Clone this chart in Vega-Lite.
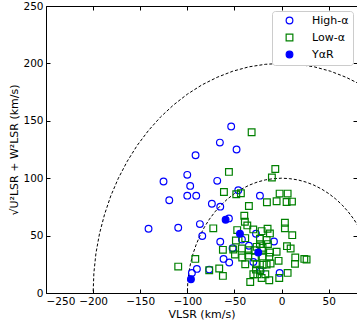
{
"$schema": "https://vega.github.io/schema/vega-lite/v6.json",
"width": 311, "height": 287,
"autosize": {"type": "none"},
"padding": {"left": 46, "top": 6, "right": 0, "bottom": 28},
"background": "white",
"config": {
  "view": {"stroke": "#000", "strokeWidth": 1},
  "font": "DejaVu Sans",
  "axis": {"grid": false, "domain": false, "tickColor": "#000", "tickSize": -4, "labelPadding": 7, "labelFontSize": 10.5, "labelColor": "#000", "labelFont": "DejaVu Sans", "titleFontSize": 11, "titleFontWeight": "normal", "titleColor": "#000", "titleFont": "DejaVu Sans"},
  "legend": {"orient": "top-right", "offset": 4.5, "padding": 4, "symbolOffset": 8, "labelOffset": 17, "rowPadding": 4, "labelFontSize": 11, "labelFont": "DejaVu Sans", "labelColor": "#000", "strokeColor": "#cccccc", "fillColor": "white", "cornerRadius": 3, "symbolSize": 45, "symbolStrokeWidth": 1.2, "symbolOpacity": 1}
},
"datasets": {
  "arcs": [
    {"R":100,"a":30,"V":86.6,"UW":50},{"R":100,"a":35,"V":81.9,"UW":57.4},{"R":100,"a":40,"V":76.6,"UW":64.3},{"R":100,"a":45,"V":70.7,"UW":70.7},{"R":100,"a":50,"V":64.3,"UW":76.6},{"R":100,"a":55,"V":57.4,"UW":81.9},{"R":100,"a":60,"V":50,"UW":86.6},{"R":100,"a":65,"V":42.3,"UW":90.6},{"R":100,"a":70,"V":34.2,"UW":94.0},{"R":100,"a":75,"V":25.9,"UW":96.6},{"R":100,"a":80,"V":17.4,"UW":98.5},{"R":100,"a":85,"V":8.7,"UW":99.6},{"R":100,"a":90,"V":0,"UW":100},{"R":100,"a":95,"V":-8.7,"UW":99.6},{"R":100,"a":100,"V":-17.4,"UW":98.5},{"R":100,"a":105,"V":-25.9,"UW":96.6},{"R":100,"a":110,"V":-34.2,"UW":94.0},{"R":100,"a":115,"V":-42.3,"UW":90.6},{"R":100,"a":120,"V":-50,"UW":86.6},{"R":100,"a":125,"V":-57.4,"UW":81.9},{"R":100,"a":130,"V":-64.3,"UW":76.6},{"R":100,"a":135,"V":-70.7,"UW":70.7},{"R":100,"a":140,"V":-76.6,"UW":64.3},{"R":100,"a":145,"V":-81.9,"UW":57.4},{"R":100,"a":150,"V":-86.6,"UW":50},{"R":100,"a":155,"V":-90.6,"UW":42.3},{"R":100,"a":160,"V":-94.0,"UW":34.2},{"R":100,"a":165,"V":-96.6,"UW":25.9},{"R":100,"a":170,"V":-98.5,"UW":17.4},{"R":100,"a":175,"V":-99.6,"UW":8.7},{"R":100,"a":180,"V":-100,"UW":0},
    {"R":200,"a":60,"V":100,"UW":173.2},{"R":200,"a":65,"V":84.5,"UW":181.3},{"R":200,"a":70,"V":68.4,"UW":187.9},{"R":200,"a":75,"V":51.8,"UW":193.2},{"R":200,"a":80,"V":34.7,"UW":197.0},{"R":200,"a":85,"V":17.4,"UW":199.2},{"R":200,"a":90,"V":0,"UW":200},{"R":200,"a":95,"V":-17.4,"UW":199.2},{"R":200,"a":100,"V":-34.7,"UW":197.0},{"R":200,"a":105,"V":-51.8,"UW":193.2},{"R":200,"a":110,"V":-68.4,"UW":187.9},{"R":200,"a":115,"V":-84.5,"UW":181.3},{"R":200,"a":120,"V":-100,"UW":173.2},{"R":200,"a":125,"V":-114.7,"UW":163.8},{"R":200,"a":130,"V":-128.6,"UW":153.2},{"R":200,"a":135,"V":-141.4,"UW":141.4},{"R":200,"a":140,"V":-153.2,"UW":128.6},{"R":200,"a":145,"V":-163.8,"UW":114.7},{"R":200,"a":150,"V":-173.2,"UW":100},{"R":200,"a":155,"V":-181.3,"UW":84.5},{"R":200,"a":160,"V":-187.9,"UW":68.4},{"R":200,"a":165,"V":-193.2,"UW":51.8},{"R":200,"a":170,"V":-197.0,"UW":34.7},{"R":200,"a":175,"V":-199.2,"UW":17.4},{"R":200,"a":180,"V":-200,"UW":0}
  ],
  "stars": [
    {"g":"High-α","V":-53.5,"UW":145},{"g":"High-α","V":-65.5,"UW":131},{"g":"High-α","V":-47.8,"UW":125},{"g":"High-α","V":-91.3,"UW":120},{"g":"High-α","V":-100.1,"UW":102.9},{"g":"High-α","V":-125.3,"UW":97.1},{"g":"High-α","V":-68.3,"UW":97.7},{"g":"High-α","V":-97,"UW":93.3},{"g":"High-α","V":-100.1,"UW":84.8},{"g":"High-α","V":-90.6,"UW":84.8},{"g":"High-α","V":-119.2,"UW":80.8},{"g":"High-α","V":-46,"UW":89.5},{"g":"High-α","V":-23,"UW":84.8},{"g":"High-α","V":-74,"UW":77.8},{"g":"High-α","V":-65.1,"UW":75.2},{"g":"High-α","V":-55.9,"UW":65},{"g":"High-α","V":-86.7,"UW":60},{"g":"High-α","V":-141.2,"UW":56},{"g":"High-α","V":-109.7,"UW":56.9},{"g":"High-α","V":-84.2,"UW":49.6},{"g":"High-α","V":-65.1,"UW":44.6},{"g":"High-α","V":-42.1,"UW":46.6},{"g":"High-α","V":-27.2,"UW":51.6},{"g":"High-α","V":-8.1,"UW":44.9},{"g":"High-α","V":-52,"UW":39},{"g":"High-α","V":-34.7,"UW":41.1},{"g":"High-α","V":-61.6,"UW":29.7},{"g":"High-α","V":-55.6,"UW":26.5},{"g":"High-α","V":-30,"UW":27.1},{"g":"High-α","V":-89.9,"UW":21},{"g":"High-α","V":-95.2,"UW":17.5},{"g":"High-α","V":-76.8,"UW":20.4},{"g":"High-α","V":-22.3,"UW":19},{"g":"High-α","V":-2.1,"UW":17.5},
    {"g":"Low-α","V":-6.7,"UW":108},{"g":"Low-α","V":-10.3,"UW":100.6},{"g":"Low-α","V":-55.9,"UW":105.5},{"g":"Low-α","V":-31.8,"UW":140},{"g":"Low-α","V":-61.2,"UW":88},{"g":"Low-α","V":-48.1,"UW":86},{"g":"Low-α","V":-43.2,"UW":86.9},{"g":"Low-α","V":-2.1,"UW":86.6},{"g":"Low-α","V":6.4,"UW":86.6},{"g":"Low-α","V":-15.6,"UW":79},{"g":"Low-α","V":-5.3,"UW":79.9},{"g":"Low-α","V":5.3,"UW":79.3},{"g":"Low-α","V":11,"UW":79.6},{"g":"Low-α","V":-34.7,"UW":75.8},{"g":"Low-α","V":-39.6,"UW":67.3},{"g":"Low-α","V":-39,"UW":62},{"g":"Low-α","V":3.5,"UW":61.2},{"g":"Low-α","V":3.5,"UW":56.3},{"g":"Low-α","V":-72.5,"UW":56.3},{"g":"Low-α","V":-47.1,"UW":54.8},{"g":"Low-α","V":-36.4,"UW":58.9},{"g":"Low-α","V":-30.1,"UW":55.4},{"g":"Low-α","V":-21.2,"UW":53.9},{"g":"Low-α","V":-14.9,"UW":56},{"g":"Low-α","V":-12.4,"UW":51.9},{"g":"Low-α","V":11.3,"UW":50.4},{"g":"Low-α","V":-48.5,"UW":45.8},{"g":"Low-α","V":-38.6,"UW":47.8},{"g":"Low-α","V":-23,"UW":47.2},{"g":"Low-α","V":-15.9,"UW":46.1},{"g":"Low-α","V":-14.5,"UW":42.6},{"g":"Low-α","V":-23,"UW":42.6},{"g":"Low-α","V":-26.5,"UW":40.2},{"g":"Low-α","V":-20.2,"UW":39.4},{"g":"Low-α","V":5.7,"UW":40.8},{"g":"Low-α","V":9.6,"UW":38.8},{"g":"Low-α","V":-62.3,"UW":37.6},{"g":"Low-α","V":-51.3,"UW":37.9},{"g":"Low-α","V":-42.1,"UW":38.8},{"g":"Low-α","V":-35,"UW":37.3},{"g":"Low-α","V":-28.7,"UW":37.3},{"g":"Low-α","V":-20.9,"UW":36.7},{"g":"Low-α","V":-12.4,"UW":35.3},{"g":"Low-α","V":-5.3,"UW":35.9},{"g":"Low-α","V":-49.5,"UW":33.5},{"g":"Low-α","V":-41.8,"UW":30.9},{"g":"Low-α","V":-35.4,"UW":32.7},{"g":"Low-α","V":-28.3,"UW":30.9},{"g":"Low-α","V":-20.2,"UW":31.8},{"g":"Low-α","V":-13.1,"UW":31.5},{"g":"Low-α","V":-3.2,"UW":28},{"g":"Low-α","V":14.5,"UW":30.9},{"g":"Low-α","V":14.2,"UW":25.4},{"g":"Low-α","V":24.1,"UW":29.7},{"g":"Low-α","V":26.5,"UW":29.2},{"g":"Low-α","V":-91.6,"UW":29.7},{"g":"Low-α","V":-38.6,"UW":25.1},{"g":"Low-α","V":-26.5,"UW":25.1},{"g":"Low-α","V":-20.2,"UW":24.5},{"g":"Low-α","V":-15.9,"UW":24.8},{"g":"Low-α","V":-11.7,"UW":25.7},{"g":"Low-α","V":-109.7,"UW":23},{"g":"Low-α","V":-76.8,"UW":19.8},{"g":"Low-α","V":-66.2,"UW":21.3},{"g":"Low-α","V":-27.2,"UW":20.4},{"g":"Low-α","V":-23,"UW":19.8},{"g":"Low-α","V":-30,"UW":16.3},{"g":"Low-α","V":-25.8,"UW":16.3},{"g":"Low-α","V":-62.3,"UW":14.9},{"g":"Low-α","V":-21.2,"UW":13.1},{"g":"Low-α","V":-13.1,"UW":11.1},{"g":"Low-α","V":-2.5,"UW":13.1},{"g":"Low-α","V":6.4,"UW":17.5},{"g":"Low-α","V":-33.3,"UW":9.6},{"g":"Low-α","V":-17.3,"UW":16.3},
    {"g":"YαR","V":-59.4,"UW":63.8},{"g":"YαR","V":-44.2,"UW":51.6},{"g":"YαR","V":-24.8,"UW":35.3},{"g":"YαR","V":-96.2,"UW":12}
  ]
},
"layer": [
  {
    "data": {"name": "arcs"},
    "mark": {"type": "line", "strokeDash": [3, 2], "color": "#000", "strokeWidth": 1, "clip": true},
    "encoding": {
      "x": {"field": "V", "type": "quantitative", "scale": {"domain": [-250, 80], "nice": false, "zero": false}, "axis": {"orient": "top", "labels": false, "title": null, "values": [-250, -200, -150, -100, -50, 0, 50]}},
      "y": {"field": "UW", "type": "quantitative", "scale": {"domain": [0, 250], "nice": false}, "axis": {"orient": "right", "labels": false, "title": null, "values": [0, 50, 100, 150, 200, 250]}},
      "detail": {"field": "R"},
      "order": {"field": "a", "type": "quantitative"}
    }
  },
  {
    "data": {"name": "stars"},
    "mark": {"type": "point", "filled": false, "strokeWidth": 1.2, "size": 45, "opacity": 1, "clip": true},
    "encoding": {
      "x": {"field": "V", "type": "quantitative", "axis": {"orient": "bottom", "title": "VLSR (km/s)", "titlePadding": 2, "values": [-250, -200, -150, -100, -50, 0, 50]}},
      "y": {"field": "UW", "type": "quantitative", "axis": {"orient": "left", "title": "√U²LSR + W²LSR (km/s)", "titleX": -32, "titleBaseline": "middle", "values": [0, 50, 100, 150, 200, 250]}},
      "color": {"field": "g", "type": "nominal", "scale": {"domain": ["High-α", "Low-α", "YαR"], "range": ["#0000ff", "#008000", "#0000ff"]}, "legend": {"title": null}},
      "fill": {"field": "g", "type": "nominal", "scale": {"domain": ["High-α", "Low-α", "YαR"], "range": ["transparent", "transparent", "#0000ff"]}, "legend": {"title": null}},
      "shape": {"field": "g", "type": "nominal", "scale": {"domain": ["High-α", "Low-α", "YαR"], "range": ["circle", "square", "circle"]}, "legend": {"title": null}}
    }
  }
],
"resolve": {"axis": {"x": "shared", "y": "shared"}}
}
